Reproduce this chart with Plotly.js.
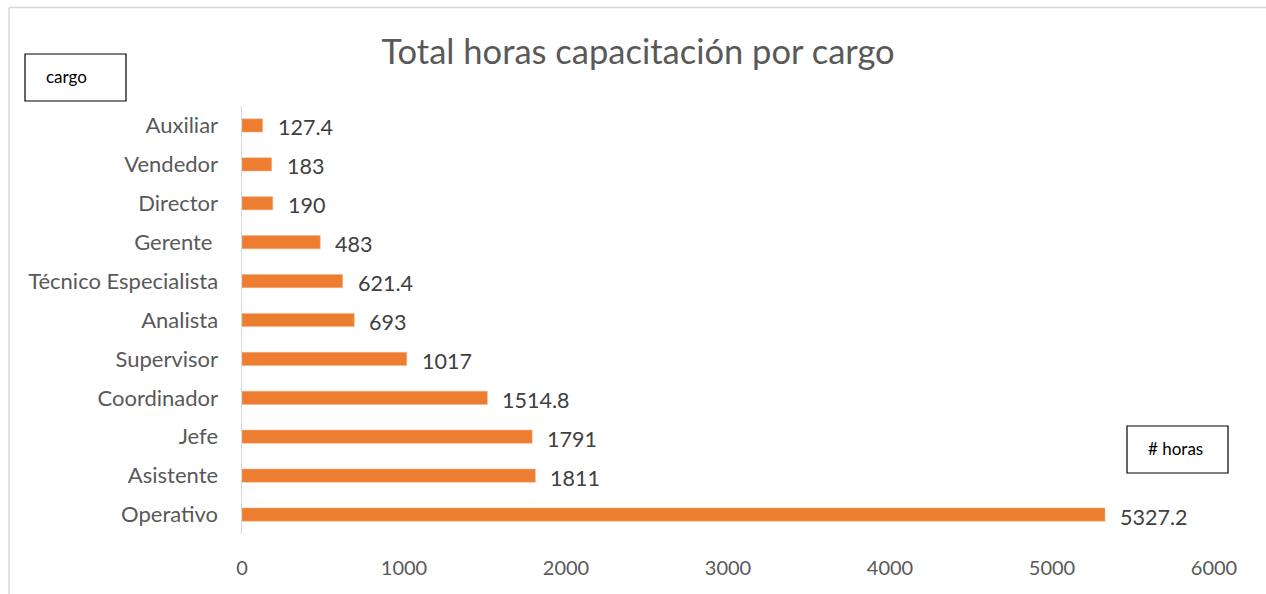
<!DOCTYPE html>
<html>
<head>
<meta charset="utf-8">
<script src="https://cdn.plot.ly/plotly-3.0.1.min.js"></script>
<style>html,body{margin:0;padding:0;background:#fff;}#chart{width:1266px;height:594px;}</style>
</head>
<body>
<div id="chart"></div>
<script>
const categories = ["Operativo","Asistente","Jefe","Coordinador","Supervisor","Analista","Técnico Especialista","Gerente ","Director","Vendedor","Auxiliar"];
const hours = [5327.2,1811,1791,1514.8,1017,693,621.4,483,190,183,127.4];
const xTicks = [0,1000,2000,3000,4000,5000,6000];
const chartTitle = "Total horas capacitación por cargo";
const yBoxLabel = "cargo";
const xBoxLabel = "# horas";

const FONT = 'Lato, Carlito, Calibri, sans-serif';
const W = 1266, H = 594;
const mL = 242, mR = 52, mT = 106, mB = 60;
const pw = W - mL - mR, ph = H - mT - mB;
const px = v => (v - mL) / pw;
const py = v => (H - mB - v) / ph;

const trace = {
  type: 'bar', orientation: 'h',
  x: hours, y: categories,
  marker: {color: '#ED7D31', line: {color: '#F4B183', width: 0.5}},
  width: 0.34,
  hoverinfo: 'x+y'
};

const annotations = hours.map((v, i) => ({
  x: v, y: categories[i], xref: 'x', yref: 'y',
  text: String(v), showarrow: false, xanchor: 'left', xshift: 13, yshift: -2,
  font: {family: FONT, size: 21.5, color: '#404040'}
}));

annotations.push({
  xref: 'paper', yref: 'paper', x: px(44), y: py(77), xanchor: 'left', yanchor: 'middle',
  text: yBoxLabel, showarrow: false,
  font: {family: FONT, size: 17, color: '#000'}
});
annotations.push({
  xref: 'paper', yref: 'paper', x: px(1146), y: py(448), xanchor: 'left', yanchor: 'middle',
  text: xBoxLabel, showarrow: false,
  font: {family: FONT, size: 17, color: '#000'}
});

const shapes = [
  {type: 'rect', xref: 'paper', yref: 'paper', x0: px(25), x1: px(126), y0: py(54), y1: py(101), line: {color: '#000', width: 1.2}},
  {type: 'rect', xref: 'paper', yref: 'paper', x0: px(1127), x1: px(1228), y0: py(426), y1: py(473), line: {color: '#000', width: 1.2}},
  {type: 'line', xref: 'paper', yref: 'paper', x0: px(9), x1: px(1266), y0: py(7.5), y1: py(7.5), line: {color: '#D9D9D9', width: 1.5}},
  {type: 'line', xref: 'paper', yref: 'paper', x0: px(9), x1: px(9), y0: py(7.5), y1: py(594), line: {color: '#D9D9D9', width: 1.5}}
];

const layout = {
  width: W, height: H,
  margin: {l: mL, r: mR, t: mT, b: mB, pad: 0},
  paper_bgcolor: '#fff', plot_bgcolor: '#fff',
  showlegend: false,
  title: {
    text: chartTitle, x: 0.504, xanchor: 'center', y: 1 - 52 / H, yanchor: 'middle',
    font: {family: FONT, size: 34.5, color: '#595959'}
  },
  xaxis: {
    range: [0, 6000], tickvals: xTicks, ticktext: xTicks.map(String),
    showgrid: false, zeroline: false, showline: false, ticks: '',
    ticklabelstandoff: 20,
    tickfont: {family: FONT, size: 20, color: '#595959'},
    fixedrange: true
  },
  yaxis: {
    type: 'category', range: [-0.5, categories.length - 0.5],
    showgrid: false, zeroline: false, showline: true, linecolor: '#D9D9D9', linewidth: 1.5,
    ticks: '', ticklabelstandoff: 18,
    tickfont: {family: FONT, size: 22, color: '#595959'},
    fixedrange: true
  },
  annotations: annotations,
  shapes: shapes
};

Plotly.newPlot('chart', [trace], layout, {displayModeBar: false, staticPlot: true});
</script>
</body>
</html>
